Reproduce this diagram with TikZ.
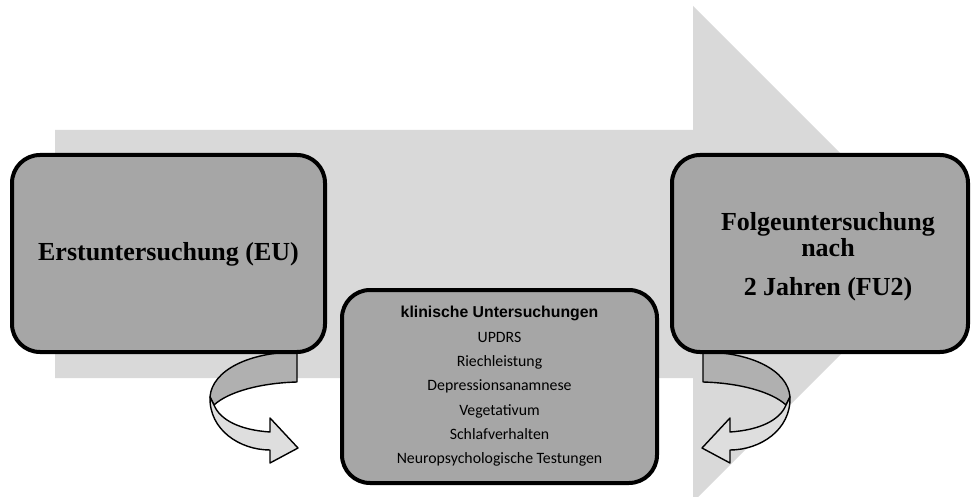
\documentclass[tikz,border=0pt]{standalone}
\usepackage{fontspec}
\setmainfont{Liberation Serif}
\newfontfamily\arialfont{Liberation Sans}
\newfontfamily\calibrifont{Carlito}
\usepackage{tikz}
\usetikzlibrary{positioning}

\definecolor{arrowgray}{HTML}{D9D9D9}
\definecolor{boxgray}{HTML}{A6A6A6}
\definecolor{turnbackgray}{HTML}{B0B0B0}
\definecolor{turnfrontgray}{HTML}{DEDEDE}

% curled arrow below a phase box (drawn for the left box, mirrored for the right one)
\newcommand{\uturnarrow}{%
  \draw[turnpart, fill=turnbackgray] (297,352) -- (297,382) .. controls (260,383) and (228,392) .. (214,405) -- (210,397) .. controls (212,370) and (250,352) .. (297,352) -- cycle;
  \draw[turnpart, fill=turnfrontgray] (210,397) .. controls (209,430) and (240,450) .. (270,450) -- (270,463) -- (298,448) -- (270,418) -- (270,432) .. controls (240,430) and (220,420) .. (214,405) -- cycle;
}

\begin{document}
\begin{tikzpicture}[x=1pt, y=-1pt,
  phase/.style={rectangle, draw=black, line width=4pt, fill=boxgray, rounded corners=28pt, inner sep=0pt, align=center},
  phasetext/.style={align=center, inner sep=0pt, font=\fontsize{26}{26}\selectfont\bfseries},
  turnpart/.style={draw=black, line width=1.4pt, line join=round}]
\useasboundingbox (0,0) rectangle (972,497);

% big background arrow
\fill[arrowgray] (55,130) -- (693,130) -- (693,6) -- (941,254) -- (693,502) -- (693,378) -- (55,378) -- cycle;

\uturnarrow
\begin{scope}[shift={(1000,0)}, xscale=-1]
\uturnarrow
\end{scope}

\node at (168.5,253.5)[phase, minimum width=313pt, minimum height=197pt] (eu) {};
\node at (168.5,254)[phasetext] (eutext) {Erstuntersuchung (EU)};

\node at (820,253.5)[phase, minimum width=296pt, minimum height=197pt] (fu2) {};
\node at (828,257)[phasetext] (fu2text) {Folgeuntersuchung\\ nach\\[13pt] 2 Jahren (FU2)};

\node at (499.5,386.5)[phase, minimum width=315pt, minimum height=193pt, font=\calibrifont\fontsize{15.8}{24.3}\selectfont] (klinik) {{\arialfont\bfseries klinische Untersuchungen}\\ UPDRS\\ Riechleistung\\ Depressionsanamnese\\ Vegetativum\\ Schlafverhalten\\ Neuropsychologische Testungen};
\end{tikzpicture}
\end{document}
